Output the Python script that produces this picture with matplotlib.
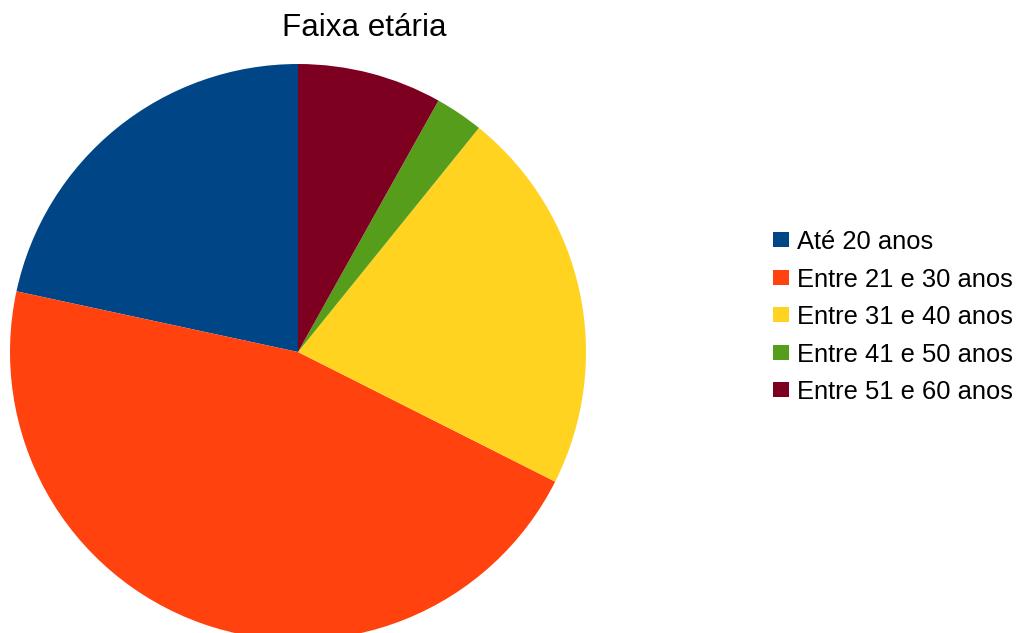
import matplotlib.pyplot as plt
from matplotlib.patches import Rectangle

# Age bracket counts
labels = ['Até 20 anos', 'Entre 21 e 30 anos', 'Entre 31 e 40 anos',
          'Entre 41 e 50 anos', 'Entre 51 e 60 anos']
counts = [8, 17, 8, 1, 3]
colors = ['#004586', '#ff420e', '#ffd320', '#579d1c', '#7e0021']

plt.rcParams['font.family'] = ['Liberation Sans', 'DejaVu Sans']

W, H = 1023, 633
fig = plt.figure(figsize=(W / 100, H / 100), dpi=100)

# pie centred at (298, 352) px with radius 288 px
cx, cy, r = 298, 352, 288
ax = fig.add_axes([(cx - r) / W, (H - cy - r) / H, 2 * r / W, 2 * r / H])
ax.pie(counts, colors=colors, startangle=90, counterclock=True, radius=1,
       wedgeprops={'linewidth': 0})
ax.set_xlim(-1, 1)
ax.set_ylim(-1, 1)
ax.set_aspect('auto')
ax.axis('off')

fig.text(364 / W, 1 - 28 / H, 'Faixa etária', ha='center', va='center',
         fontsize=22.6)

# legend drawn by hand to match the spacing
for i, (lab, col) in enumerate(zip(labels, colors)):
    yc = 239.5 + i * 37.6
    fig.patches.append(Rectangle((773 / W, 1 - (yc + 7.5) / H), 15.5 / W, 15 / H,
                                 transform=fig.transFigure, facecolor=col,
                                 edgecolor='none'))
    fig.text(797 / W, 1 - yc / H, lab, ha='left', va='center_baseline',
             fontsize=18.4)

fig.savefig('out.png', dpi=100, facecolor='white')
